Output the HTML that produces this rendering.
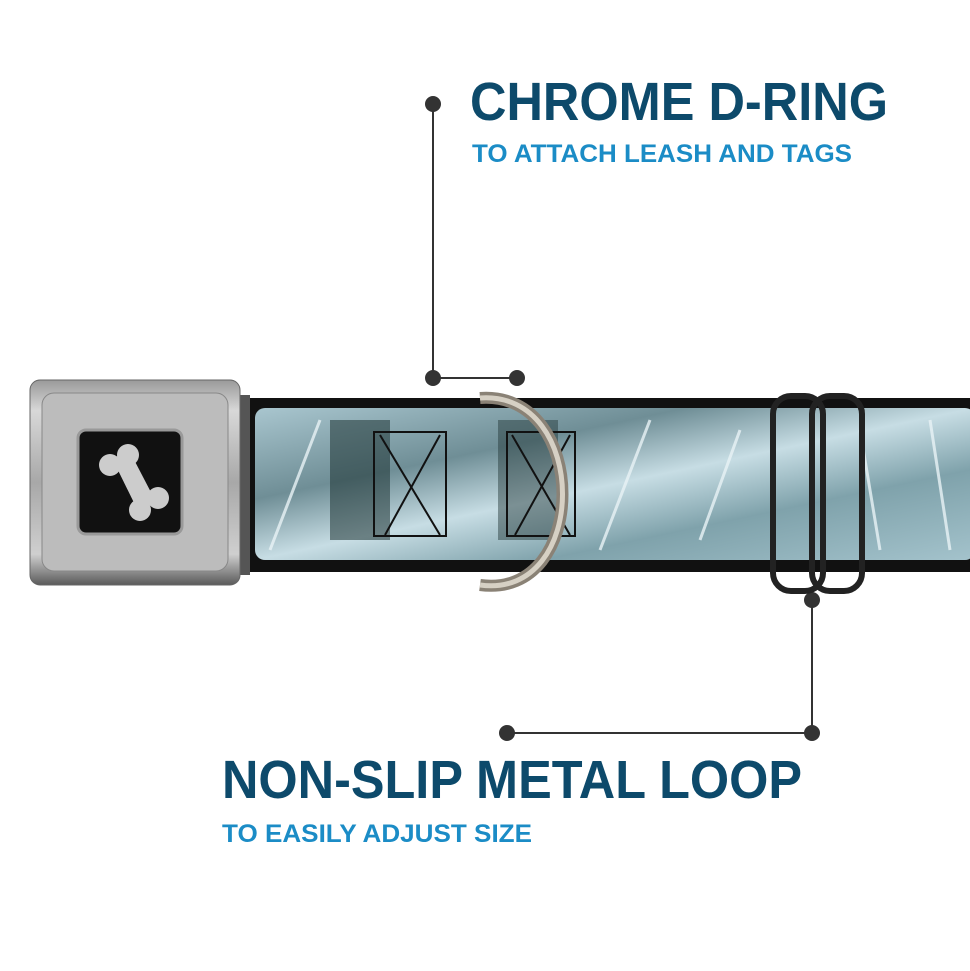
<!DOCTYPE html>
<html><head><style>body{margin:0;background:#fff}svg{display:block}</style></head><body>
<svg width="970" height="971" viewBox="0 0 970 971" xmlns="http://www.w3.org/2000/svg">
<defs>
<linearGradient id="bk" x1="0" y1="0" x2="0" y2="1"><stop offset="0" stop-color="#9a9a9a"/><stop offset=".15" stop-color="#d8d8d8"/><stop offset=".5" stop-color="#a8a8a8"/><stop offset=".85" stop-color="#cfcfcf"/><stop offset="1" stop-color="#5a5a5a"/></linearGradient>
<linearGradient id="st" x1="0" y1="0" x2="1" y2="1"><stop offset="0" stop-color="#a9c6cf"/><stop offset=".3" stop-color="#6f8e96"/><stop offset=".5" stop-color="#c7dde4"/><stop offset=".7" stop-color="#7fa2ab"/><stop offset="1" stop-color="#a4c3cc"/></linearGradient>
</defs>
<g font-family="Liberation Sans, sans-serif" font-weight="bold">
<text x="470" y="120" font-size="54" fill="#0d4a6b" textLength="418" lengthAdjust="spacingAndGlyphs">CHROME D-RING</text>
<text x="472" y="162" font-size="25" fill="#1b8cc6" textLength="380" lengthAdjust="spacingAndGlyphs">TO ATTACH LEASH AND TAGS</text>
<text x="222" y="798" font-size="54" fill="#0d4a6b" textLength="580" lengthAdjust="spacingAndGlyphs">NON-SLIP METAL LOOP</text>
<text x="222" y="842" font-size="25" fill="#1b8cc6" textLength="310" lengthAdjust="spacingAndGlyphs">TO EASILY ADJUST SIZE</text>
</g>
<g stroke="#333" stroke-width="2" fill="none">
<polyline points="433,104 433,378 517,378"/>
<polyline points="812,600 812,733 507,733"/>
</g>
<g fill="#333">
<circle cx="433" cy="104" r="8"/><circle cx="433" cy="378" r="8"/><circle cx="517" cy="378" r="8"/>
<circle cx="812" cy="600" r="8"/><circle cx="812" cy="733" r="8"/><circle cx="507" cy="733" r="8"/>
</g>
<!-- strap -->
<rect x="235" y="398" width="740" height="174" fill="#111"/>
<rect x="255" y="408" width="720" height="152" rx="10" fill="url(#st)"/>
<g stroke="#e9f3f6" stroke-width="3" opacity=".8">
<line x1="270" y1="550" x2="320" y2="420"/><line x1="600" y1="550" x2="650" y2="420"/><line x1="700" y1="540" x2="740" y2="430"/><line x1="880" y1="550" x2="860" y2="430"/><line x1="930" y1="420" x2="950" y2="550"/>
</g>
<rect x="330" y="420" width="60" height="120" fill="#1f3434" opacity=".55"/>
<rect x="498" y="420" width="60" height="120" fill="#1f3434" opacity=".45"/>
<g stroke="#111" stroke-width="2" fill="none">
<rect x="374" y="432" width="72" height="104"/><line x1="380" y1="435" x2="440" y2="535"/><line x1="440" y1="435" x2="385" y2="535"/>
<rect x="507" y="432" width="68" height="104"/><line x1="512" y1="435" x2="570" y2="535"/><line x1="570" y1="435" x2="515" y2="535"/>
</g>
<!-- buckle -->
<rect x="225" y="395" width="25" height="180" fill="#555"/>
<rect x="30" y="380" width="210" height="205" rx="10" fill="url(#bk)" stroke="#666"/>
<rect x="42" y="393" width="186" height="178" rx="12" fill="#bcbcbc" stroke="#888"/>
<rect x="78" y="430" width="104" height="104" rx="8" fill="#111" stroke="#999" stroke-width="3"/>
<g fill="#ccc"><circle cx="110" cy="465" r="11"/><circle cx="128" cy="455" r="11"/><circle cx="140" cy="510" r="11"/><circle cx="158" cy="498" r="11"/><polygon points="112,458 130,452 155,500 140,515"/></g>
<!-- D-ring -->
<path d="M480,398 C590,390 590,600 480,585" stroke="#8a8276" stroke-width="12" fill="none"/>
<path d="M480,398 C590,390 590,600 480,585" stroke="#d6d0c4" stroke-width="5" fill="none"/>
<!-- loop -->
<rect x="773" y="396" width="50" height="195" rx="18" fill="none" stroke="#222" stroke-width="6"/>
<rect x="812" y="396" width="50" height="195" rx="18" fill="none" stroke="#222" stroke-width="6"/>
</svg>
</body></html>
